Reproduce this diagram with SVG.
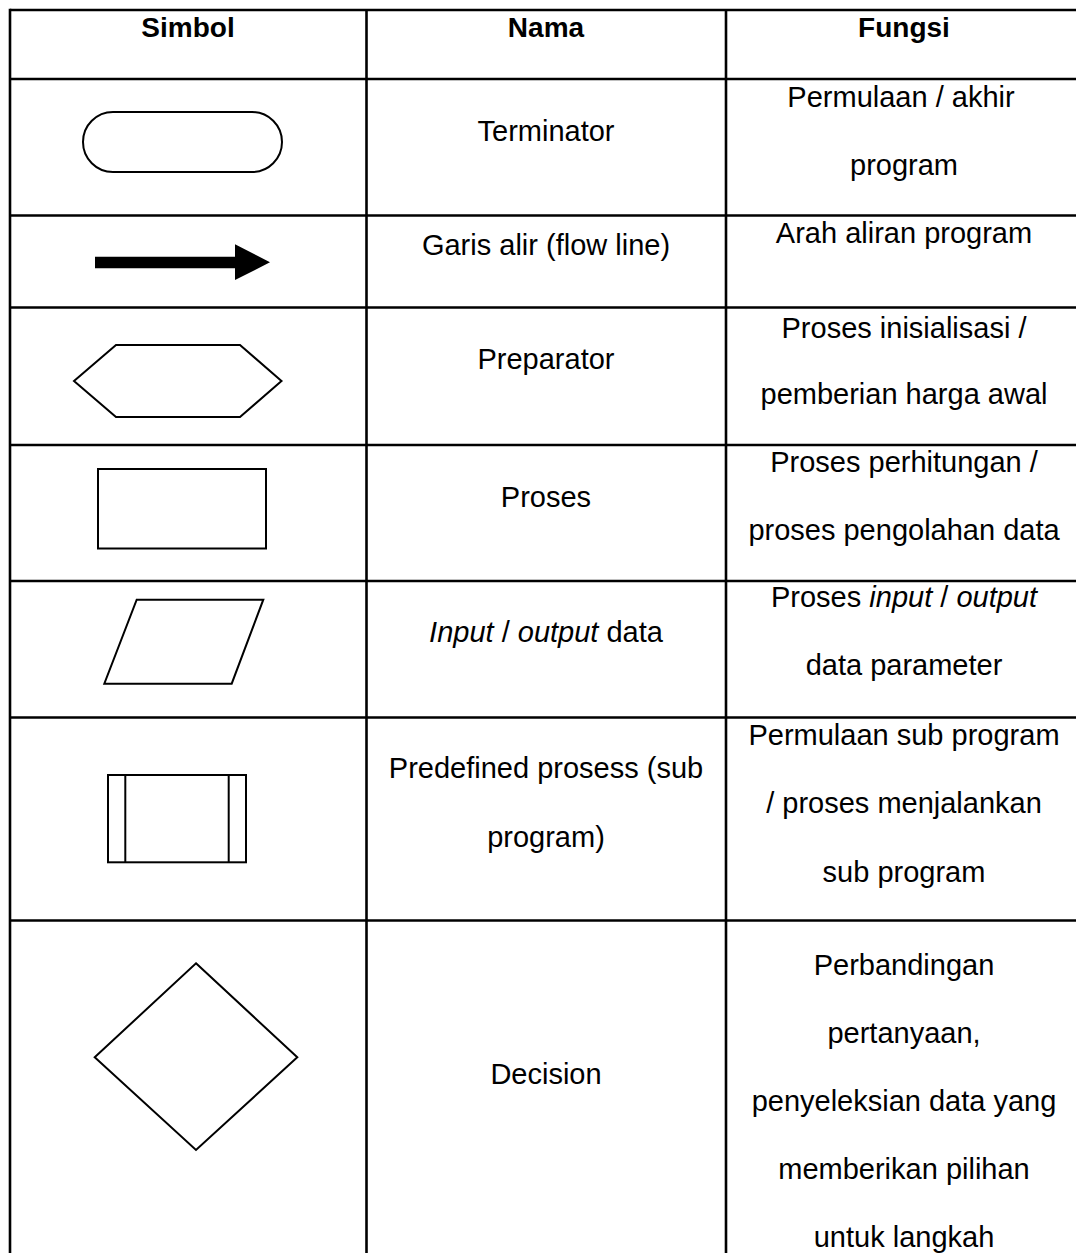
<svg xmlns="http://www.w3.org/2000/svg" width="1076" height="1253" viewBox="0 0 1076 1253">
<style>
.grid{stroke:#000;stroke-width:2.6;fill:none}
.sh{stroke:#000;stroke-width:2;fill:#fff}
.t{font-family:"Liberation Sans",Arial,sans-serif;font-size:29px;fill:#000;text-anchor:middle}
.h{font-weight:bold;font-size:28px}
.i{font-style:italic}
</style>
<rect width="1076" height="1253" fill="#fff"/>
<g id="table-grid">
<line class="grid" x1="10" y1="10" x2="1076" y2="10"/>
<line class="grid" x1="10" y1="79" x2="1076" y2="79"/>
<line class="grid" x1="10" y1="215.5" x2="1076" y2="215.5"/>
<line class="grid" x1="10" y1="307.5" x2="1076" y2="307.5"/>
<line class="grid" x1="10" y1="445" x2="1076" y2="445"/>
<line class="grid" x1="10" y1="581" x2="1076" y2="581"/>
<line class="grid" x1="10" y1="717.5" x2="1076" y2="717.5"/>
<line class="grid" x1="10" y1="920.5" x2="1076" y2="920.5"/>
<line class="grid" x1="10" y1="8.7" x2="10" y2="1253"/>
<line class="grid" x1="366.5" y1="10" x2="366.5" y2="1253"/>
<line class="grid" x1="726" y1="10" x2="726" y2="1253"/>
</g>
<g id="header">
<text class="t h" x="188" y="37">Simbol</text>
<text class="t h" x="546" y="37">Nama</text>
<text class="t h" x="904" y="37">Fungsi</text>
</g>
<g id="row-terminator">
<rect class="sh" x="83" y="112" width="199" height="60" rx="30" ry="30"/>
<text class="t" x="546" y="141">Terminator</text>
<text class="t" x="901" y="107">Permulaan / akhir</text>
<text class="t" x="904" y="175">program</text>
</g>
<g id="row-flowline">
<polygon fill="#000" points="95,256.7 235,256.7 235,244.3 270,262.3 235,280 235,268.3 95,268.3"/>
<text class="t" x="546" y="255">Garis alir (flow line)</text>
<text class="t" x="904" y="243">Arah aliran program</text>
</g>
<g id="row-preparator">
<polygon class="sh" points="74,381 116,345 240,345 281.5,381 240,417 116,417"/>
<text class="t" x="546" y="369">Preparator</text>
<text class="t" x="904" y="338">Proses inisialisasi /</text>
<text class="t" x="904" y="404">pemberian harga awal</text>
</g>
<g id="row-proses">
<rect class="sh" x="98" y="469" width="168" height="79.5"/>
<text class="t" x="546" y="507">Proses</text>
<text class="t" x="904" y="472">Proses perhitungan /</text>
<text class="t" x="904" y="540">proses pengolahan data</text>
</g>
<g id="row-io">
<polygon class="sh" points="136.7,599.7 263.3,599.7 231.7,683.7 104.3,683.7"/>
<text class="t" x="546" y="642"><tspan class="i">Input</tspan> / <tspan class="i">output</tspan> data</text>
<text class="t" x="904" y="607">Proses <tspan class="i">input</tspan> / <tspan class="i">output</tspan></text>
<text class="t" x="904" y="675">data parameter</text>
</g>
<g id="row-predefined">
<rect class="sh" x="108" y="775" width="138" height="87.3"/>
<line class="sh" x1="125.3" y1="775" x2="125.3" y2="862.3"/>
<line class="sh" x1="228.7" y1="775" x2="228.7" y2="862.3"/>
<text class="t" x="546" y="778">Predefined prosess (sub</text>
<text class="t" x="546" y="847">program)</text>
<text class="t" x="904" y="745">Permulaan sub program</text>
<text class="t" x="904" y="813">/ proses menjalankan</text>
<text class="t" x="904" y="882">sub program</text>
</g>
<g id="row-decision">
<polygon class="sh" points="196,963.3 297.3,1057.3 196,1150 94.7,1057.3"/>
<text class="t" x="546" y="1084">Decision</text>
<text class="t" x="904" y="975">Perbandingan</text>
<text class="t" x="904" y="1043">pertanyaan,</text>
<text class="t" x="904" y="1111">penyeleksian data yang</text>
<text class="t" x="904" y="1179">memberikan pilihan</text>
<text class="t" x="904" y="1247">untuk langkah</text>
</g>
</svg>
